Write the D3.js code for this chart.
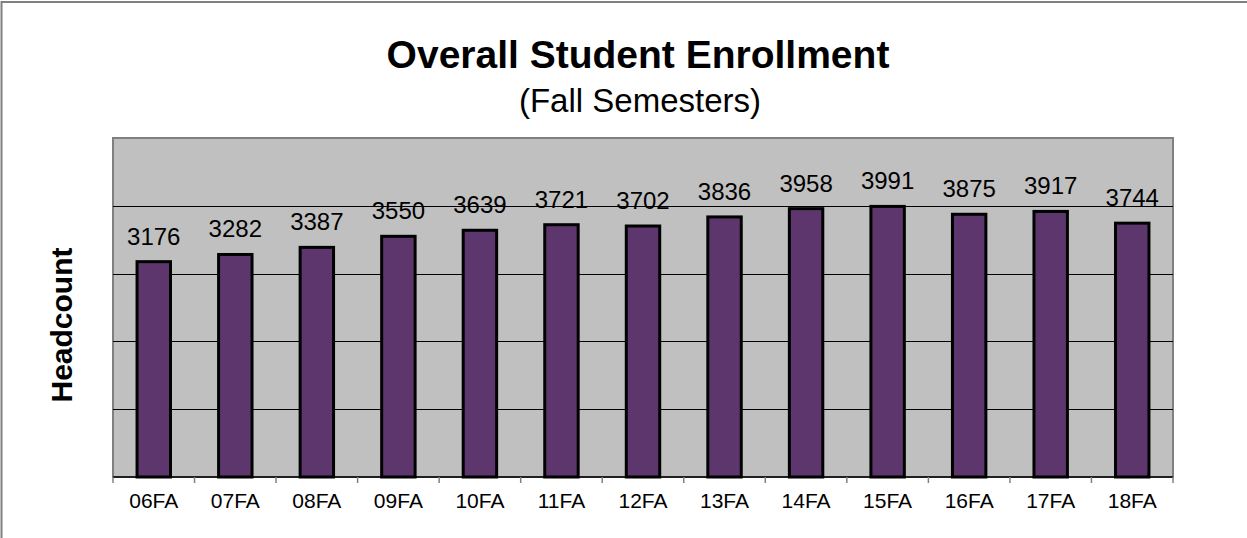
<!DOCTYPE html>
<html lang="en">
<head>
    <meta charset="UTF-8">
    <title>Overall Student Enrollment</title>
    <script src="https://cdn.jsdelivr.net/npm/d3@7"></script>
    <style>
        html, body {
            margin: 0;
            background: #fff;
        }
        text {
            font-family: "Liberation Sans", Arial, sans-serif;
        }
    </style>
</head>
<body>
<div class="chart"></div>

<script>

    var semesters = ["06FA", "07FA", "08FA", "09FA", "10FA", "11FA", "12FA", "13FA", "14FA", "15FA", "16FA", "17FA", "18FA"];
    var headcount = [3176, 3282, 3387, 3550, 3639, 3721, 3702, 3836, 3958, 3991, 3875, 3917, 3744];
    var gridValues = [0, 1000, 2000, 3000, 4000, 5000];

    var width = 1247, height = 538;
    var margin = {left: 113, right: 74, top: 138, bottom: 61};

    var svg = d3.select('.chart').append('svg')
        .attr('width', width)
        .attr('height', height);

    // outer chart frame (runs off the right and bottom edges)
    svg.append('rect')
        .attr('x', 1.5).attr('y', 2)
        .attr('width', width + 10).attr('height', height + 10)
        .attr('fill', 'none')
        .attr('stroke', '#808080')
        .attr('stroke-width', 2);

    var x = d3.scaleBand()
        .domain(semesters)
        .range([margin.left, width - margin.right])
        .padding(0);

    var y = d3.scaleLinear()
        .domain([0, 5000])
        .range([height - margin.bottom, margin.top]);

    // plot area
    svg.append('rect')
        .attr('x', margin.left).attr('y', margin.top)
        .attr('width', width - margin.left - margin.right)
        .attr('height', height - margin.top - margin.bottom)
        .attr('fill', '#c0c0c0')
        .attr('stroke', '#808080')
        .attr('stroke-width', 2);

    svg.append('g')
        .selectAll('line')
        .data(gridValues.slice(1, -1))
        .enter().append('line')
        .attr('x1', margin.left).attr('x2', width - margin.right)
        .attr('y1', function (d) { return Math.round(y(d)) + 0.5; })
        .attr('y2', function (d) { return Math.round(y(d)) + 0.5; })
        .attr('stroke', '#000')
        .attr('stroke-width', 1);

    var barW = x.bandwidth() * 0.41;

    svg.append('g')
        .selectAll('rect')
        .data(headcount)
        .enter().append('rect')
        .attr('x', function (d, i) { return x(semesters[i]) + (x.bandwidth() - barW) / 2; })
        .attr('y', function (d) { return y(d); })
        .attr('width', barW)
        .attr('height', function (d) { return y(0) - y(d); })
        .attr('fill', '#5e366e')
        .attr('stroke', '#000')
        .attr('stroke-width', 3);

    svg.append('g')
        .selectAll('text')
        .data(headcount)
        .enter().append('text')
        .attr('x', function (d, i) { return x(semesters[i]) + x.bandwidth() / 2; })
        .attr('y', function (d) { return y(d) - 17; })
        .attr('text-anchor', 'middle')
        .attr('font-size', 24)
        .attr('fill', '#000')
        .text(function (d) { return d; });

    // x axis
    var xAxis = svg.append('g')
        .attr('transform', 'translate(0,' + y(0) + ')');
    xAxis.append('line')
        .attr('x1', margin.left).attr('x2', width - margin.right)
        .attr('stroke', '#000').attr('stroke-width', 1.5);
    xAxis.selectAll('.tick')
        .data(semesters.concat(['end']))
        .enter().append('line')
        .attr('x1', function (d) { return d === 'end' ? width - margin.right : x(d); })
        .attr('x2', function (d) { return d === 'end' ? width - margin.right : x(d); })
        .attr('y1', 0).attr('y2', 6)
        .attr('stroke', '#808080').attr('stroke-width', 1.5);
    xAxis.selectAll('.lbl')
        .data(semesters)
        .enter().append('text')
        .attr('x', function (d) { return x(d) + x.bandwidth() / 2; })
        .attr('y', 31)
        .attr('text-anchor', 'middle')
        .attr('font-size', 21)
        .text(function (d) { return d; });

    // titles
    svg.append('text')
        .attr('x', 638).attr('y', 68)
        .attr('text-anchor', 'middle')
        .attr('font-size', 39)
        .attr('font-weight', 'bold')
        .text('Overall Student Enrollment');
    svg.append('text')
        .attr('x', 640).attr('y', 112)
        .attr('text-anchor', 'middle')
        .attr('font-size', 33)
        .text('(Fall Semesters)');

    svg.append('text')
        .attr('transform', 'translate(72,325) rotate(-90)')
        .attr('text-anchor', 'middle')
        .attr('font-size', 30)
        .attr('font-weight', 'bold')
        .text('Headcount');

</script>
</body>
</html>
